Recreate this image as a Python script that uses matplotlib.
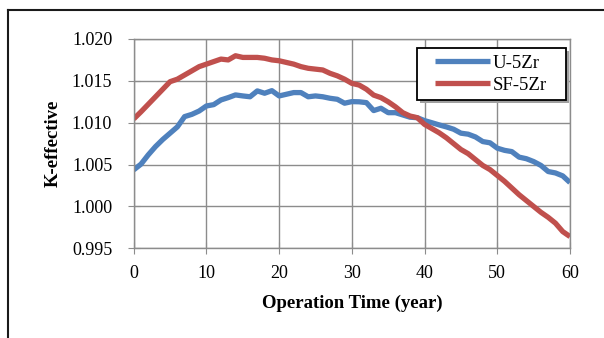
import numpy as np
import matplotlib.pyplot as plt
from matplotlib.lines import Line2D
from matplotlib.patches import Rectangle

plt.rcParams['font.family'] = ['Liberation Serif', 'DejaVu Serif']

# operation time in years
years = np.arange(0, 61)

# k-effective, U-5Zr fuel
k_u5zr = [1.00437, 1.00505, 1.00616, 1.00715, 1.0080, 1.00875, 1.0095, 1.01073, 1.0110, 1.0114,
          1.0120, 1.01216, 1.01272, 1.0130, 1.01332, 1.0132, 1.0131, 1.0138, 1.01352, 1.01383,
          1.0132, 1.0134, 1.0136, 1.0136, 1.0131, 1.0132, 1.0131, 1.01292, 1.0128, 1.01233,
          1.01252, 1.0125, 1.0124, 1.01145, 1.01173, 1.0112, 1.0112, 1.01093, 1.01066, 1.0106,
          1.01025, 1.0100, 1.00974, 1.0095, 1.00922, 1.00875, 1.00863, 1.0083, 1.00775, 1.0076,
          1.00696, 1.0067, 1.00655, 1.00589, 1.0057, 1.00536, 1.0049, 1.00417, 1.0040, 1.00365,
          1.00285]

# k-effective, SF-5Zr fuel
k_sf5zr = [1.01045, 1.0113, 1.0122, 1.0131, 1.0140, 1.0149, 1.0152, 1.0157, 1.0162, 1.0167,
           1.0170, 1.0173, 1.0176, 1.0175, 1.0180, 1.0178, 1.0178, 1.0178, 1.0177, 1.0175,
           1.0174, 1.0172, 1.0170, 1.0167, 1.0165, 1.0164, 1.0163, 1.0159, 1.0156, 1.0152,
           1.0147, 1.0145, 1.0140, 1.0133, 1.0130, 1.0125, 1.0119, 1.0112, 1.0108, 1.0106,
           1.0098, 1.0093, 1.0088, 1.0082, 1.0075, 1.0068, 1.0063, 1.0056, 1.0049, 1.0044,
           1.0037, 1.0030, 1.0022, 1.0014, 1.0007, 1.0000, 0.9993, 0.9987, 0.9980, 0.9970,
           0.9964]

xticks = [0, 10, 20, 30, 40, 50, 60]
yticks = [0.995, 1.000, 1.005, 1.010, 1.015, 1.020]

W, H = 604, 338
fig = plt.figure(figsize=(W / 100, H / 100), dpi=100)

def px(x, y):
    # pixel (from top-left) -> figure fraction
    return x / W, 1 - y / H

ax = fig.add_axes([133.7 / W, 1 - 248.3 / H, (570 - 133.7) / W, (248.3 - 39) / H])

ax.plot(years, k_u5zr, color='#4F81BD', lw=3.8, label='U-5Zr', solid_capstyle='butt')
ax.plot(years, k_sf5zr, color='#C0504D', lw=3.8, label='SF-5Zr', solid_capstyle='butt')

ax.set_xlim(0, 60)
ax.set_ylim(0.995, 1.020)
ax.set_xticks(xticks)
ax.set_yticks(yticks)
ax.set_yticklabels(['%.3f' % v for v in yticks])
ax.grid(color='#8c8c8c', lw=1.0)
ax.set_axisbelow(True)
for s in ax.spines.values():
    s.set_color('#8c8c8c')
    s.set_linewidth(1.0)
ax.tick_params(direction='inout', length=8, color='#8c8c8c', labelsize=13)
ax.tick_params(axis='y', pad=11.5)
ax.tick_params(axis='x', pad=8)

ax.set_xlabel('Operation Time (year)', fontsize=13.5, fontweight='bold', labelpad=9)
ax.set_ylabel('K-effective', fontsize=13.5, fontweight='bold', labelpad=7.5)

# legend box with a grey drop shadow, drawn by hand
x0, y0 = px(417, 100)
bw, bh = 149 / W, 52 / H
fig.add_artist(Rectangle((x0 + 3 / W, y0 - 3 / H), bw, bh, transform=fig.transFigure,
                         facecolor='#a0a0a0', edgecolor='none', zorder=4))
fig.add_artist(Rectangle((x0, y0), bw, bh, transform=fig.transFigure,
                         facecolor='white', edgecolor='black', lw=1.3, zorder=5))
leg = fig.legend(loc='center left', bbox_to_anchor=px(435, 74.2), fontsize=13.5,
                 frameon=False, handlelength=2.93, handletextpad=0.15,
                 borderpad=0, borderaxespad=0, labelspacing=0.25)
leg.set_zorder(6)

# outer chart frame (only top and left edges visible)
fig.add_artist(Line2D([8 / W, 1], [1 - 10 / H, 1 - 10 / H], color='#1a1a1a', lw=1.5,
                      transform=fig.transFigure))
fig.add_artist(Line2D([8 / W, 8 / W], [0, 1 - 10 / H], color='#1a1a1a', lw=1.5,
                      transform=fig.transFigure))

fig.savefig('out.png', dpi=100)
